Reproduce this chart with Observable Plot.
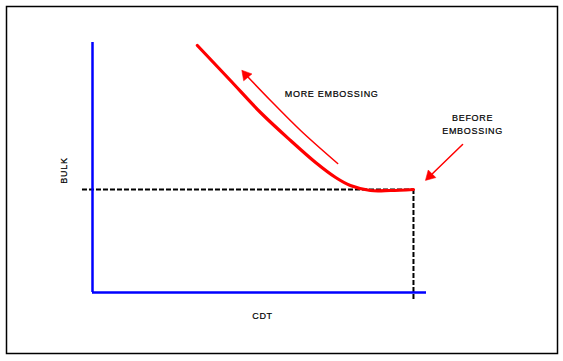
<!DOCTYPE html>
<html><head><meta charset="utf-8">
<script src="https://cdn.jsdelivr.net/npm/d3@7"></script>
<script src="https://cdn.jsdelivr.net/npm/@observablehq/plot@0.6"></script>
<style>html,body{margin:0;padding:0;background:#fff;}</style>
</head><body><div id="chart"></div>
<script>
// Conceptual units: axes run 0..100 on both CDT (x) and BULK (y)
const curveX = [31.4, 41.3, 50.3, 59.3, 66.8, 72.8, 77.2, 83.2, 89.2, 96.1];
const curveY = [98.8, 84.8, 72, 60.8, 52, 46, 42.8, 40.8, 40.8, 41.2];
const baseLevel = 41.2;       // BULK before embossing
const baseCdt = 96.1;         // CDT before embossing
const dashStartX = -3;
const dashEndY = -3.2;
const moreArrowX = [73.4, 62.3, 53.3, 46.4];
const moreArrowY = [51.6, 64.8, 76.8, 86.4];
const beforeArrowX = [110.8, 100.9];
const beforeArrowY = [59.2, 46.4];
const headX = [45.9, 101];
const headY = [87, 46.6];
const headAngle = [-40, 225];
const labels = ["MORE EMBOSSING", "BEFORE", "EMBOSSING", "CDT"];
const labelX = [71.6, 113.8, 113.8, 50.9];
const labelY = [79.2, 69.6, 64.4, -9.6];
const yLabel = "BULK";
const yLabelX = -8.4, yLabelY = 48.8;

const curve = curveX.map((x, i) => ({x, y: curveY[i]}));
const more = moreArrowX.map((x, i) => ({x, y: moreArrowY[i]}));
const before = beforeArrowX.map((x, i) => ({x, y: beforeArrowY[i]}));
const heads = headX.map((x, i) => ({x, y: headY[i], a: headAngle[i]}));
const texts = labels.map((t, i) => ({t, x: labelX[i], y: labelY[i]}));

const font = "'Liberation Sans', Arial, sans-serif";
const chart = Plot.plot({
  width: 563, height: 361,
  marginLeft: 6, marginRight: 6, marginTop: 6, marginBottom: 8,
  x: {domain: [0, 100], range: [92, 426], axis: null},
  y: {domain: [0, 100], range: [292, 42], axis: null},
  style: {fontFamily: font, background: "#fff"},
  marks: [
    Plot.frame({stroke: "#000", strokeWidth: 1.5}),
    Plot.ruleY([baseLevel], {x1: dashStartX, x2: baseCdt, stroke: "#000", strokeWidth: 2, strokeDasharray: "5,2"}),
    Plot.ruleX([baseCdt], {y1: baseLevel, y2: dashEndY, stroke: "#000", strokeWidth: 2, strokeDasharray: "5,2"}),
    Plot.ruleX([0], {y1: 0, y2: 100, stroke: "#0000ff", strokeWidth: 2.5}),
    Plot.ruleY([0], {x1: 0, x2: 100, stroke: "#0000ff", strokeWidth: 2.5}),
    Plot.line(curve, {x: "x", y: "y", stroke: "#ff0000", strokeWidth: 3.2, curve: "catmull-rom"}),
    Plot.line(more, {x: "x", y: "y", stroke: "#ff0000", strokeWidth: 1.5, curve: "catmull-rom"}),
    Plot.line(before, {x: "x", y: "y", stroke: "#ff0000", strokeWidth: 1.5}),
    Plot.dot(heads, {x: "x", y: "y", rotate: "a", symbol: "triangle", r: 4, fill: "#ff0000", stroke: "#ff0000", strokeWidth: 0.5}),
    Plot.text(texts, {x: "x", y: "y", text: "t", fontSize: 9, fill: "#000", stroke: "#000", strokeWidth: 0.2}),
    Plot.text([yLabel], {x: yLabelX, y: yLabelY, text: d => d, rotate: -90, fontSize: 9, fill: "#000", stroke: "#000", strokeWidth: 0.2})
  ]
});
chart.querySelectorAll("text").forEach(t => t.setAttribute("letter-spacing", "0.7"));
document.getElementById("chart").appendChild(chart);
</script></body></html>
